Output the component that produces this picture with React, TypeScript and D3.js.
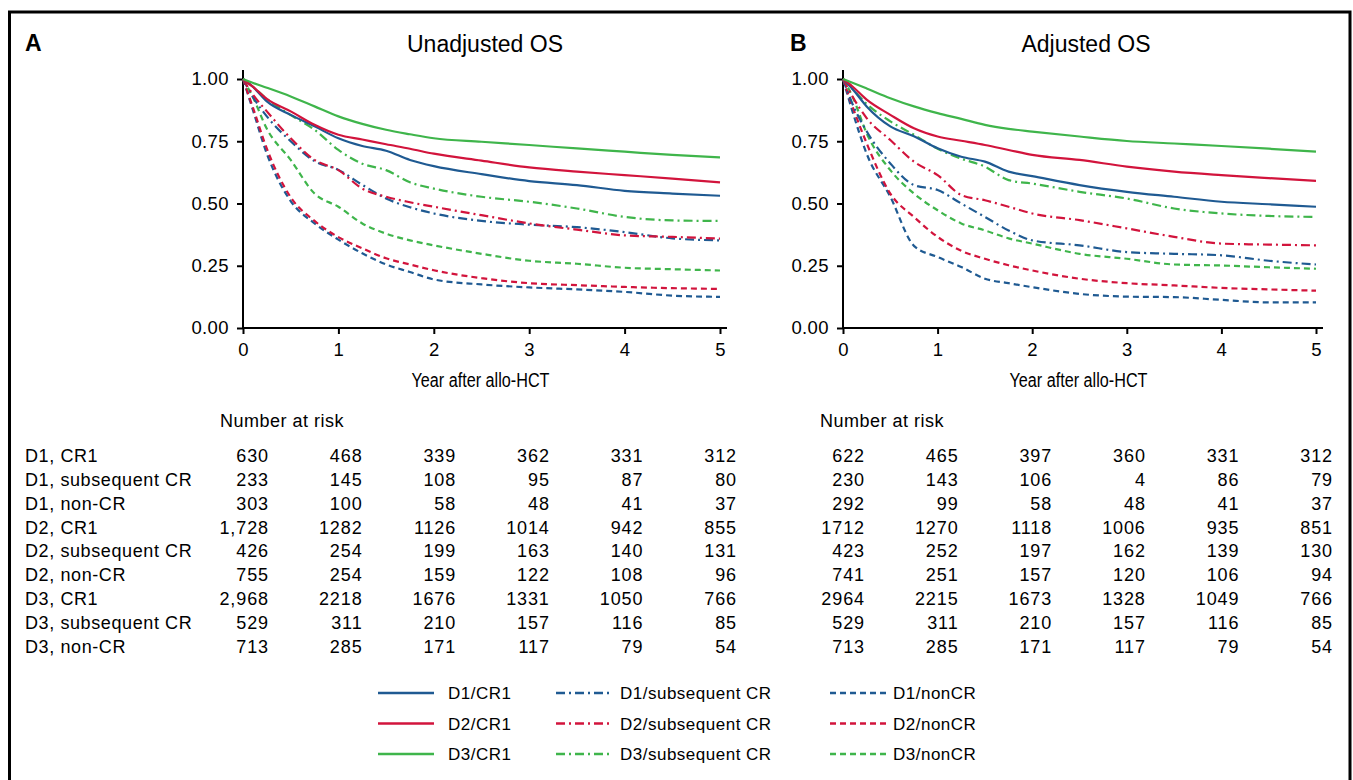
import React, { useEffect, useRef } from "react";
import * as d3 from "d3";

// follow-up times (years)
const times = [0, 0.1, 0.25, 0.5, 0.75, 1, 1.25, 1.5, 1.75, 2, 2.5, 3, 3.5, 4, 4.5, 5];

// panel A: unadjusted OS
const unadjD1CR1 = [1, 0.97, 0.91, 0.856, 0.81, 0.762, 0.731, 0.712, 0.675, 0.65, 0.618, 0.59, 0.574, 0.551, 0.54, 0.531];
const unadjD2CR1 = [1, 0.97, 0.92, 0.87, 0.816, 0.776, 0.757, 0.738, 0.72, 0.7, 0.672, 0.645, 0.628, 0.614, 0.6, 0.585];
const unadjD3CR1 = [1, 0.985, 0.965, 0.93, 0.89, 0.85, 0.82, 0.796, 0.778, 0.762, 0.748, 0.735, 0.721, 0.708, 0.695, 0.685];
const unadjD1Sub = [1, 0.93, 0.85, 0.75, 0.67, 0.635, 0.575, 0.52, 0.485, 0.46, 0.43, 0.415, 0.405, 0.385, 0.36, 0.352];
const unadjD2Sub = [1, 0.94, 0.87, 0.762, 0.675, 0.634, 0.56, 0.527, 0.505, 0.487, 0.453, 0.42, 0.395, 0.372, 0.366, 0.359];
const unadjD3Sub = [1, 0.97, 0.92, 0.855, 0.796, 0.715, 0.66, 0.634, 0.585, 0.56, 0.527, 0.507, 0.48, 0.446, 0.432, 0.43];
const unadjD1Non = [1, 0.88, 0.7, 0.51, 0.42, 0.355, 0.3, 0.255, 0.225, 0.195, 0.175, 0.163, 0.155, 0.145, 0.13, 0.125];
const unadjD2Non = [1, 0.89, 0.72, 0.525, 0.43, 0.365, 0.32, 0.28, 0.255, 0.232, 0.2, 0.18, 0.172, 0.165, 0.16, 0.157];
const unadjD3Non = [1, 0.93, 0.8, 0.675, 0.54, 0.487, 0.42, 0.379, 0.352, 0.332, 0.298, 0.27, 0.258, 0.242, 0.236, 0.231];

// panel B: adjusted OS
const adjD1CR1 = [1, 0.96, 0.89, 0.81, 0.77, 0.722, 0.688, 0.668, 0.628, 0.61, 0.574, 0.547, 0.527, 0.507, 0.497, 0.487];
const adjD2CR1 = [1, 0.97, 0.917, 0.856, 0.802, 0.769, 0.752, 0.735, 0.715, 0.695, 0.675, 0.648, 0.628, 0.614, 0.602, 0.591];
const adjD3CR1 = [1, 0.985, 0.962, 0.923, 0.89, 0.863, 0.84, 0.816, 0.8, 0.789, 0.769, 0.751, 0.741, 0.731, 0.72, 0.708];
const adjD1Sub = [1, 0.9, 0.79, 0.661, 0.574, 0.554, 0.5, 0.446, 0.392, 0.352, 0.332, 0.305, 0.298, 0.292, 0.27, 0.255];
const adjD2Sub = [1, 0.93, 0.843, 0.755, 0.668, 0.614, 0.534, 0.513, 0.487, 0.46, 0.433, 0.4, 0.366, 0.339, 0.335, 0.332];
const adjD3Sub = [1, 0.96, 0.9, 0.83, 0.776, 0.72, 0.68, 0.648, 0.594, 0.58, 0.547, 0.52, 0.48, 0.46, 0.45, 0.446];
const adjD1Non = [1, 0.87, 0.7, 0.527, 0.33, 0.285, 0.245, 0.198, 0.18, 0.164, 0.137, 0.126, 0.124, 0.113, 0.103, 0.103];
const adjD2Non = [1, 0.89, 0.742, 0.54, 0.446, 0.366, 0.31, 0.278, 0.252, 0.231, 0.198, 0.18, 0.171, 0.161, 0.155, 0.15];
const adjD3Non = [1, 0.93, 0.782, 0.634, 0.54, 0.473, 0.42, 0.392, 0.36, 0.339, 0.298, 0.278, 0.255, 0.251, 0.244, 0.238];

const seriesNames = [
  "D1/CR1", "D2/CR1", "D3/CR1",
  "D1/subsequent CR", "D2/subsequent CR", "D3/subsequent CR",
  "D1/nonCR", "D2/nonCR", "D3/nonCR",
];
const unadjSeries = [unadjD1CR1, unadjD2CR1, unadjD3CR1, unadjD1Sub, unadjD2Sub, unadjD3Sub, unadjD1Non, unadjD2Non, unadjD3Non];
const adjSeries = [adjD1CR1, adjD2CR1, adjD3CR1, adjD1Sub, adjD2Sub, adjD3Sub, adjD1Non, adjD2Non, adjD3Non];

// number at risk
const riskRows = [
  "D1, CR1", "D1, subsequent CR", "D1, non-CR",
  "D2, CR1", "D2, subsequent CR", "D2, non-CR",
  "D3, CR1", "D3, subsequent CR", "D3, non-CR",
];
const riskA = [
  ["630", "468", "339", "362", "331", "312"],
  ["233", "145", "108", "95", "87", "80"],
  ["303", "100", "58", "48", "41", "37"],
  ["1,728", "1282", "1126", "1014", "942", "855"],
  ["426", "254", "199", "163", "140", "131"],
  ["755", "254", "159", "122", "108", "96"],
  ["2,968", "2218", "1676", "1331", "1050", "766"],
  ["529", "311", "210", "157", "116", "85"],
  ["713", "285", "171", "117", "79", "54"],
];
const riskB = [
  ["622", "465", "397", "360", "331", "312"],
  ["230", "143", "106", "4", "86", "79"],
  ["292", "99", "58", "48", "41", "37"],
  ["1712", "1270", "1118", "1006", "935", "851"],
  ["423", "252", "197", "162", "139", "130"],
  ["741", "251", "157", "120", "106", "94"],
  ["2964", "2215", "1673", "1328", "1049", "766"],
  ["529", "311", "210", "157", "116", "85"],
  ["713", "285", "171", "117", "79", "54"],
];

const colors = ["#1f5a92", "#d2143c", "#3fb54b"];
const dashes = [null, "9,4,2,4", "6,4"];
const yTicks = [0, 0.25, 0.5, 0.75, 1];
const xTicks = [0, 1, 2, 3, 4, 5];

const font = "'Liberation Sans', Arial, Helvetica, sans-serif";

const panels = [
  { letter: "A", letterX: 25, title: "Unadjusted OS", titleX: 485, x0: 243, x1: 720, series: unadjSeries, risk: riskA, riskX: 269, nX: 220 },
  { letter: "B", letterX: 790, title: "Adjusted OS", titleX: 1086, x0: 843, x1: 1316, series: adjSeries, risk: riskB, riskX: 865, nX: 820 },
];

const App = () => {
  const svgRef = useRef<SVGSVGElement>(null);

  useEffect(() => {
    const svg = d3.select(svgRef.current);
    svg.selectAll("*").remove();

    // frame
    svg.append("path")
      .attr("d", "M9.5,800 L9.5,12 L1350,12 L1350,800")
      .attr("fill", "none").attr("stroke", "#000").attr("stroke-width", 3);

    const y = d3.scaleLinear().domain([0, 1]).range([328, 79]);

    panels.forEach((p, pi) => {
      const x = d3.scaleLinear().domain([0, 5]).range([p.x0, p.x1]);
      const g = svg.append("g");

      g.append("text").text(p.letter)
        .attr("x", p.letterX).attr("y", 51)
        .style("font", `bold 23px ${font}`);
      g.append("text").text(p.title)
        .attr("x", p.titleX).attr("y", 52)
        .attr("text-anchor", "middle")
        .style("font", `23px ${font}`);

      // axes
      const yAxis = g.append("g").attr("transform", `translate(${p.x0},0)`)
        .call(d3.axisLeft(y).tickValues(yTicks).tickFormat(d3.format(".2f")).tickSize(6).tickPadding(8));
      const xAxis = g.append("g").attr("transform", "translate(0,328)")
        .call(d3.axisBottom(x).tickValues(xTicks).tickFormat(d3.format("d")).tickSize(6).tickPadding(9));
      [yAxis, xAxis].forEach((a) => {
        a.select(".domain").remove();
        a.selectAll("line").attr("stroke", "#000").attr("stroke-width", 2);
        a.selectAll("text").style("font", `18.5px ${font}`).style("letter-spacing", "0.4px").attr("fill", "#000");
      });
      g.append("line").attr("x1", p.x0).attr("x2", p.x0).attr("y1", 70).attr("y2", 329)
        .attr("stroke", "#000").attr("stroke-width", 2);
      g.append("line").attr("x1", p.x0 - 1).attr("x2", p.x1 + 7).attr("y1", 328).attr("y2", 328)
        .attr("stroke", "#000").attr("stroke-width", 2);

      // condensed axis title
      g.append("text").text("Year after allo-HCT")
        .attr("x", (p.x0 + p.x1) / 2 - 70).attr("y", 387)
        .attr("textLength", 138)
        .attr("lengthAdjust", "spacingAndGlyphs")
        .style("font", `20px ${font}`);

      // curves, drawn from the bottom group up
      const line = d3.line<number>()
        .x((_, i) => x(times[i]))
        .y((d) => y(d))
        .curve(d3.curveMonotoneX);
      const order = [6, 7, 8, 3, 4, 5, 0, 1, 2];
      order.forEach((si) => {
        g.append("path")
          .datum(p.series[si])
          .attr("d", line)
          .attr("fill", "none")
          .attr("stroke", colors[si % 3])
          .attr("stroke-width", 2.2)
          .attr("stroke-dasharray", dashes[Math.floor(si / 3)]);
      });

      // number at risk table
      g.append("text").text("Number at risk")
        .attr("x", p.nX).attr("y", 427)
        .style("font", `18px ${font}`).style("letter-spacing", "0.5px");
      p.risk.forEach((row, ri) => {
        const ty = 462 + ri * 23.85;
        if (pi === 0) {
          g.append("text").text(riskRows[ri])
            .attr("x", 25).attr("y", ty)
            .style("font", `18px ${font}`).style("letter-spacing", "0.6px");
        }
        row.forEach((v, ci) => {
          g.append("text").text(v)
            .attr("x", p.riskX + ci * 93.6).attr("y", ty)
            .attr("text-anchor", "end")
            .style("font", `18px ${font}`).style("letter-spacing", "0.9px");
        });
      });
    });

    // legend
    const legendCols = [
      { lx: 378, tx: 448 },
      { lx: 556, tx: 620 },
      { lx: 830, tx: 893 },
    ];
    const leg = svg.append("g");
    seriesNames.forEach((name, i) => {
      const col = legendCols[Math.floor(i / 3)];
      const ly = 693 + (i % 3) * 30.5;
      leg.append("line")
        .attr("x1", col.lx).attr("x2", col.lx + 56)
        .attr("y1", ly).attr("y2", ly)
        .attr("stroke", colors[i % 3])
        .attr("stroke-width", 2.4)
        .attr("stroke-dasharray", dashes[Math.floor(i / 3)]);
      leg.append("text").text(name)
        .attr("x", col.tx).attr("y", ly + 6)
        .style("font", `17px ${font}`).style("letter-spacing", "0.5px");
    });
  }, []);

  return (
    <svg
      ref={svgRef}
      width={1353}
      height={780}
      style={{ position: "absolute", left: 0, top: 0, background: "#fff" }}
    />
  );
};

export default App;
